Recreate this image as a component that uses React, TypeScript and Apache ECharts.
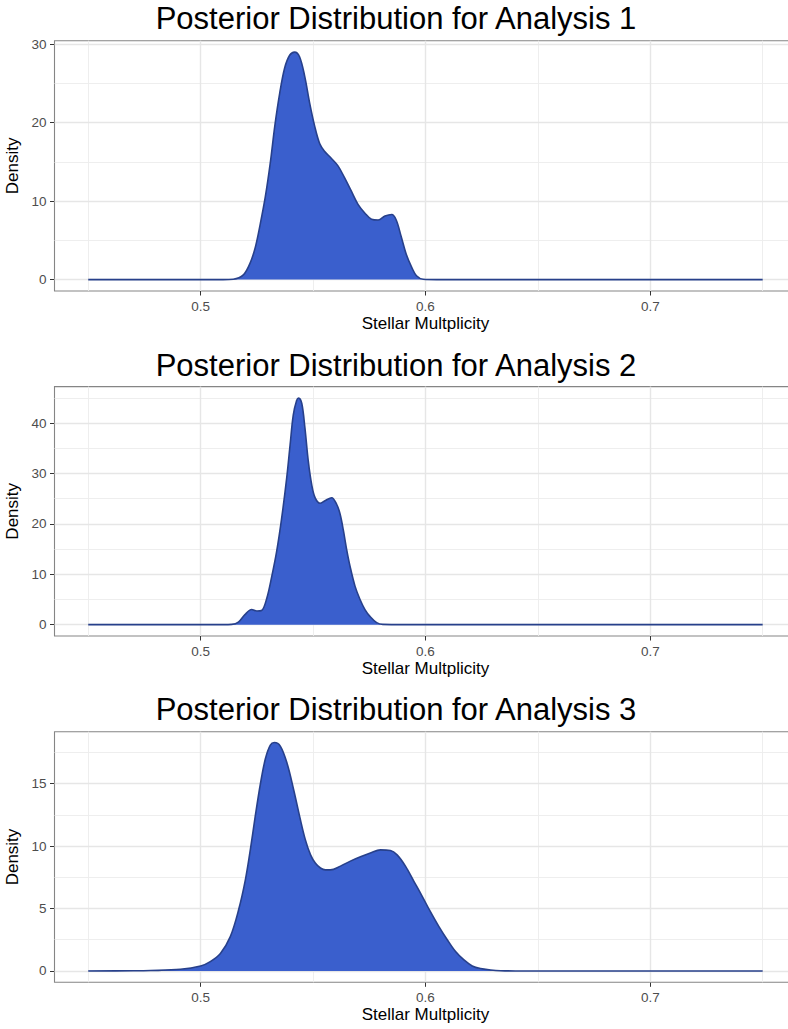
import React, { useEffect, useRef } from "react";
import * as echarts from "echarts";

// ---------- data ----------
const titles = [
  "Posterior Distribution for Analysis 1",
  "Posterior Distribution for Analysis 2",
  "Posterior Distribution for Analysis 3",
];

const stellar1 = [
  0.45, 0.5, 0.51, 0.5145, 0.519, 0.522, 0.5244, 0.5266, 0.5288, 0.531, 0.533, 0.5352, 0.5374, 0.5396,
  0.5418, 0.544, 0.5463, 0.5485, 0.5507, 0.553, 0.555, 0.558, 0.5611, 0.564, 0.567, 0.57, 0.573, 0.576,
  0.579, 0.582, 0.585, 0.587, 0.5892, 0.5915, 0.594, 0.596, 0.599, 0.605, 0.65, 0.75,
];
const density1 = [
  0, 0, 0, 0.05, 0.6, 2.1, 4.2, 7.2, 10.6, 14.9, 19.6, 23.8, 27.0, 28.6,
  29.0, 28.4, 25.9, 22.5, 19.6, 17.3, 16.4, 15.5, 14.5, 13.0, 11.3, 9.6, 8.5, 7.7,
  7.6, 8.1, 8.3, 7.6, 5.5, 3.2, 1.5, 0.5, 0.05, 0, 0, 0,
];

const stellar2 = [
  0.45, 0.5, 0.51, 0.5138, 0.5168, 0.5197, 0.5227, 0.525, 0.5271, 0.5294, 0.5316, 0.5338, 0.536, 0.5383,
  0.5398, 0.5412, 0.5427, 0.5436, 0.545, 0.5464, 0.5479, 0.5494, 0.5509, 0.5531, 0.5553, 0.5583, 0.5605,
  0.562, 0.5635, 0.565, 0.5665, 0.5687, 0.5709, 0.5731, 0.5754, 0.5783, 0.581, 0.59, 0.75,
];
const density2 = [
  0, 0, 0, 0.05, 0.5, 2.0, 3.0, 2.7, 2.8, 5.2, 9.5, 14.5, 21.0, 29.2,
  35.7, 41.6, 44.5, 45.0, 43.9, 39.0, 32.4, 27.8, 25.2, 24.1, 24.6, 25.2, 23.9,
  22.0, 18.7, 14.8, 11.5, 7.6, 5.0, 3.0, 1.6, 0.4, 0.05, 0, 0,
];

const stellar3 = [
  0.45, 0.47, 0.4777, 0.491, 0.5, 0.5043, 0.5088, 0.5132, 0.5169, 0.5199, 0.5221, 0.5243, 0.5266, 0.5288,
  0.531, 0.5328, 0.5355, 0.5385, 0.5414, 0.5444, 0.5466, 0.5489, 0.551, 0.5533, 0.5555, 0.5577, 0.5622,
  0.5666, 0.5711, 0.5755, 0.58, 0.5844, 0.5874, 0.5911, 0.5948, 0.5985, 0.6022, 0.606, 0.6097, 0.6134,
  0.617, 0.6208, 0.6245, 0.629, 0.6334, 0.64, 0.75,
];
const density3 = [
  0, 0.01, 0.03, 0.13, 0.4, 0.75, 1.4, 2.75, 4.9, 7.3, 9.7, 12.4, 15.0, 17.0,
  18.1, 18.3, 18.0, 16.6, 14.5, 12.1, 10.5, 9.3, 8.65, 8.25, 8.1, 8.1, 8.4,
  8.8, 9.15, 9.45, 9.7, 9.65, 9.3, 8.4, 7.2, 6.0, 4.75, 3.55, 2.5, 1.55,
  0.9, 0.4, 0.19, 0.08, 0.02, 0, 0,
];

const xLimits = [0.435, 0.765];
const xTicks = [0.5, 0.6, 0.7];
const xMinor = [0.45, 0.55, 0.65, 0.75];

const yLimits1 = [-1.45, 30.45];
const yTicks1 = [0, 10, 20, 30];
const yMinor1 = [5, 15, 25];

const yLimits2 = [-2.25, 47.25];
const yTicks2 = [0, 10, 20, 30, 40];
const yMinor2 = [5, 15, 25, 35, 45];

const yLimits3 = [-0.91, 19.17];
const yTicks3 = [0, 5, 10, 15];
const yMinor3 = [2.5, 7.5, 12.5, 17.5];

const xLabel = "Stellar Multplicity";
const yLabel = "Density";

// ---------- layout ----------
const CHART_W = 812;
const CHART_H = 1029;
const PLOT_LEFT = 54.5;
const PLOT_RIGHT = 796.4;
const gridTops = [40.7, 386.6, 731.7];
const gridHeights = [250.3, 249.4, 250.6];
const titleY = [18.7, 365, 709];
const FONT = "'Liberation Sans', Arial, Helvetica, sans-serif";

const panels = [
  { xs: stellar1, ys: density1, yl: yLimits1, yt: yTicks1, ym: yMinor1 },
  { xs: stellar2, ys: density2, yl: yLimits2, yt: yTicks2, ym: yMinor2 },
  { xs: stellar3, ys: density3, yl: yLimits3, yt: yTicks3, ym: yMinor3 },
];

function buildOption() {
  const major = { color: "#E6E6E6", width: 1.4, type: "solid" as const };
  const minor = { color: "#ECECEC", width: 0.9, type: "solid" as const };
  const grid = panels.map((_, i) => ({
    left: PLOT_LEFT,
    right: CHART_W - PLOT_RIGHT,
    top: gridTops[i],
    height: gridHeights[i],
    show: true,
    borderColor: "#858585",
    borderWidth: 1.1,
    backgroundColor: "transparent",
    containLabel: false,
    outerBoundsMode: "none",
  }));
  const xAxis = panels.map((_, i) => ({
    type: "value",
    gridIndex: i,
    min: xLimits[0],
    max: xLimits[1],
    name: xLabel,
    nameLocation: "middle",
    nameGap: 24,
    nameTextStyle: { color: "#000", fontSize: 17, fontFamily: FONT },
    axisLine: { show: false, onZero: false },
    axisTick: { show: true, customValues: xTicks, length: 4.5, lineStyle: { color: "#333", width: 1 } },
    axisLabel: { customValues: xTicks, color: "#4D4D4D", fontSize: 13.5, fontFamily: FONT, margin: 8 },
    splitLine: { show: false },
  }));
  const yAxis = panels.map((p, i) => ({
    type: "value",
    gridIndex: i,
    min: p.yl[0],
    max: p.yl[1],
    name: yLabel,
    nameLocation: "middle",
    nameGap: 28,
    nameTextStyle: { color: "#000", fontSize: 17, fontFamily: FONT },
    axisLine: { show: false, onZero: false },
    axisTick: { show: true, customValues: p.yt, length: 4.5, lineStyle: { color: "#333", width: 1 } },
    axisLabel: { customValues: p.yt, color: "#4D4D4D", fontSize: 13.5, fontFamily: FONT, margin: 8 },
    splitLine: { show: false },
  }));
  const series: any[] = [];
  panels.forEach((p, i) => {
    const pts = p.xs.map((x, k) => [x, p.ys[k]]);
    const lines = [
      ...xMinor.map((v) => ({ xAxis: v, lineStyle: minor })),
      ...p.ym.map((v) => ({ yAxis: v, lineStyle: minor })),
      ...xTicks.map((v) => ({ xAxis: v, lineStyle: major })),
      ...p.yt.map((v) => ({ yAxis: v, lineStyle: major })),
    ];
    series.push({
      type: "line",
      xAxisIndex: i,
      yAxisIndex: i,
      data: pts,
      z: 1,
      silent: true,
      showSymbol: false,
      symbol: "none",
      lineStyle: { opacity: 0 },
      markLine: {
        silent: true,
        symbol: ["none", "none"],
        label: { show: false },
        emphasis: { disabled: true },
        animation: false,
        data: lines,
      },
    });
    series.push({
      type: "line",
      xAxisIndex: i,
      yAxisIndex: i,
      data: pts,
      z: 10,
      silent: true,
      smooth: 0.35,
      showSymbol: false,
      symbol: "none",
      lineStyle: { color: "#27408B", width: 1.6 },
      areaStyle: { color: "#3A5FCD", opacity: 1, origin: "auto" },
    });
  });
  const graphic = titles.map((t, i) => ({
    type: "text",
    x: 396,
    y: titleY[i],
    silent: true,
    style: {
      text: t,
      fill: "#000",
      fontSize: 31,
      fontFamily: FONT,
      align: "center",
      verticalAlign: "middle",
    },
  }));
  return { animation: false, backgroundColor: "#fff", grid, xAxis, yAxis, series, graphic };
}

export default function App() {
  const ref = useRef<HTMLDivElement>(null);
  useEffect(() => {
    if (!ref.current) return;
    const chart = echarts.init(ref.current, undefined, { renderer: "svg" });
    chart.setOption(buildOption() as any);
    return () => chart.dispose();
  }, []);
  return (
    <div style={{ position: "fixed", left: 0, top: 0, width: 788, height: CHART_H, overflow: "hidden", background: "#fff" }}>
      <div ref={ref} style={{ width: CHART_W, height: CHART_H }} />
    </div>
  );
}
